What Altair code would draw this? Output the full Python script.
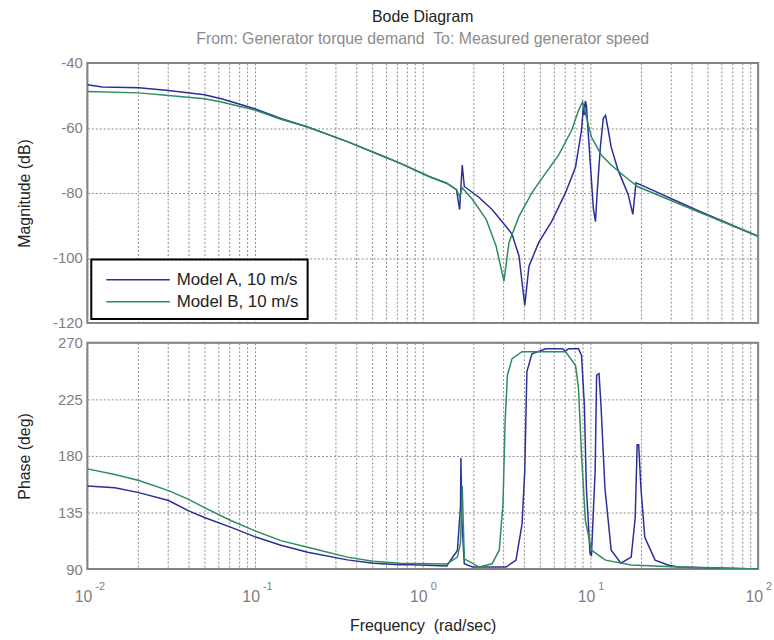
import altair as alt
import pandas as pd

FONT = "Liberation Sans"
BLUE = "#2b2e99"
GREEN = "#2e8b5c"

series_names = ["Model A, 10 m/s", "Model B, 10 m/s"]

# Magnitude (dB) - Model A
mag_a_freq = [0.01, 0.0123, 0.0203, 0.0305, 0.0499, 0.063, 0.0986, 0.1425, 0.206, 0.355, 0.557,
              0.731, 1.10, 1.39, 1.59, 1.66, 1.72, 1.77, 2.17, 2.59, 3.14, 3.41, 3.75, 4.06, 4.30,
              4.92, 5.87, 7.11, 8.15, 8.85, 9.10, 9.20, 9.33, 9.46, 9.86, 10.42, 10.72, 11.0,
              11.46, 11.94, 12.3, 12.78, 13.3, 14.6, 16.8, 17.9, 18.7, 20.6, 43.6, 100]
mag_a = [-46.7, -47.4, -47.6, -48.5, -49.8, -51.0, -54.0, -57.1, -59.7, -64.2, -68.3,
         -70.8, -75.0, -77.0, -79.0, -85.1, -71.4, -78.0, -81.4, -85.1, -90.3, -92.7, -99.4, -114.6,
         -102.5, -95.2, -88.8, -79.9, -72.0, -60.7, -52.5, -56.0, -51.7, -53.0, -66.8, -85.0, -88.8,
         -79.0, -65.9, -57.0, -56.1, -60.7, -65.9, -72.9, -80.5, -86.6, -76.9, -77.8, -85.4, -93.3]

# Magnitude (dB) - Model B
mag_b_freq = [0.01, 0.0203, 0.0305, 0.0499, 0.063, 0.0986, 0.1425, 0.206, 0.355, 0.557, 0.731,
              1.10, 1.39, 1.59, 1.66, 1.72, 1.98, 2.39, 2.74, 3.05, 3.27, 3.75, 4.48, 5.42,
              6.47, 7.73, 8.49, 8.97, 9.46, 10.14, 11.61, 13.3, 16.1, 19.2, 43.6, 100]
mag_b = [-48.8, -49.2, -50.0, -51.0, -52.0, -54.4, -57.3, -59.7, -64.2, -68.3, -70.8,
         -75.0, -77.0, -79.0, -81.1, -78.4, -82.0, -88.1, -96.4, -107.1, -95.2, -87.2, -79.9, -73.8,
         -68.3, -60.7, -54.6, -52.0, -56.6, -62.8, -68.3, -71.4, -75.0, -78.1, -85.7, -93.3]

# Phase (deg) - Model A
ph_a_freq = [0.01, 0.0146, 0.0203, 0.0305, 0.0402, 0.0499, 0.0721, 0.0986, 0.1425, 0.206,
             0.355, 0.506, 0.731, 0.873, 1.39,
             1.61, 1.68, 1.69, 1.71, 1.77, 1.98, 3.14, 3.60, 3.91, 4.06, 4.18, 4.48, 5.42,
             6.8, 7.1, 7.4, 8.49, 8.85, 9.20, 9.46, 9.95, 10.14, 10.67, 10.89, 11.25, 11.56,
             12.2, 13.3, 15.2, 17.5, 18.5, 19.0, 19.4, 20.0, 21.1, 24.3, 29.0, 33.2, 57.2, 100]
ph_a = [156.1, 154.7, 150.8, 144.5, 136.3, 131.0, 123.2, 116.0, 108.9, 103.4,
        97.3, 94.7, 93.4, 93.4, 92.4,
        104.8, 140.0, 178.4, 130.0, 94.2, 91.6, 91.6, 97.1, 125.8, 168.2, 247.1, 261.3, 265.3,
        265.3, 263.5, 265.3, 265.3, 260.0, 220.5, 154.7, 102.1, 101.0, 168.2, 244.2, 245.5, 220.5,
        154.7, 105.0, 94.7, 99.5, 131.0, 188.9, 188.9, 154.7, 115.3, 97.1, 93.2, 91.6, 90.8, 90.0]

# Phase (deg) - Model B
ph_b_freq = [0.01, 0.0146, 0.0203, 0.0305, 0.0402, 0.0499, 0.0721, 0.0986, 0.1425, 0.206,
             0.355, 0.506, 0.731, 1.39, 1.61,
             1.68, 1.72, 1.77, 2.17, 2.59, 2.86, 3.01, 3.10, 3.20, 3.41, 3.91, 7.11,
             8.15, 8.49, 8.85, 9.33, 10.14, 12.3, 17.5, 33.2, 100]
ph_b = [169.7, 165.2, 160.5, 152.4, 145.5, 138.9, 128.4, 120.8, 112.6, 107.4,
        99.5, 96.2, 94.7, 94.0, 99.5,
        111.0, 156.3, 98.1, 91.6, 94.2, 105.0, 141.6, 207.6, 244.2, 257.4, 262.9, 262.9,
        252.1, 233.7, 181.0, 128.7, 105.0, 97.1, 93.2, 91.6, 90.0]

mag_ticks = [-120, -100, -80, -60, -40]
phase_ticks = [90, 135, 180, 225, 270]
decade_freqs = [0.01, 0.1, 1, 10, 100]
decade_bases = ["10", "10", "10", "10", "10"]
decade_exps = ["-2", "-1", "0", "1", "2"]

grid_vals = [m * 10.0 ** k for k in range(-2, 2) for m in range(1, 10)] + [100.0]

mag_df = pd.concat([
    pd.DataFrame({"freq": mag_a_freq, "val": mag_a, "series": series_names[0]}),
    pd.DataFrame({"freq": mag_b_freq, "val": mag_b, "series": series_names[1]}),
])
ph_df = pd.concat([
    pd.DataFrame({"freq": ph_a_freq, "val": ph_a, "series": series_names[0]}),
    pd.DataFrame({"freq": ph_b_freq, "val": ph_b, "series": series_names[1]}),
])
tick_df = pd.DataFrame({"freq": decade_freqs, "base": decade_bases, "exp": decade_exps})

x_scale = alt.Scale(type="log", domain=[0.01, 100], nice=False)
color_scale = alt.Scale(domain=series_names, range=[BLUE, GREEN])

grid_kw = dict(grid=True, gridColor="#8c8c8c", gridDash=[2, 2], gridWidth=1,
               ticks=False, domain=False)
ylab_kw = dict(labelColor="#808080", labelFontSize=15, labelFont=FONT, labelPadding=5,
               labelExpr="'' + datum.value",
               titleFont=FONT, titleFontSize=16, titleFontWeight="normal", titleColor="#222222",
               titleX=-58, titleBaseline="alphabetic")

top = alt.Chart(mag_df).mark_line(strokeWidth=1.5, clip=True).encode(
    x=alt.X("freq:Q", scale=x_scale,
            axis=alt.Axis(values=grid_vals, labels=False, title=None, **grid_kw)),
    y=alt.Y("val:Q", scale=alt.Scale(domain=[-120, -40], nice=False, zero=False),
            axis=alt.Axis(values=mag_ticks, title="Magnitude (dB)", **grid_kw, **ylab_kw)),
    color=alt.Color("series:N", scale=color_scale,
                    legend=alt.Legend(title=None, orient="bottom-left", offset=4,
                                      symbolType="M-0.5,0H5.5", symbolSize=455,
                                      symbolStrokeWidth=1.5,
                                      labelFont=FONT, labelFontSize=17, labelColor="#222222",
                                      labelOffset=54, strokeColor="black", fillColor="white",
                                      padding=9, rowPadding=2, cornerRadius=0)),
).properties(
    width=676, height=262,
    title=alt.TitleParams(text="Bode Diagram",
                          subtitle="From: Generator torque demand\u00a0 To: Measured generator speed",
                          anchor="middle", frame="group", font=FONT, fontSize=16,
                          fontWeight="normal", color="#222222", subtitleFont=FONT,
                          subtitleFontSize=16, subtitleColor="#8c8c8c", subtitlePadding=6,
                          offset=9),
)

ph_lines = alt.Chart(ph_df).mark_line(strokeWidth=1.5, clip=True).encode(
    x=alt.X("freq:Q", scale=x_scale,
            axis=alt.Axis(values=grid_vals, labels=False, title="Frequency\u00a0 (rad/sec)",
                          titleFont=FONT, titleFontSize=16, titleFontWeight="normal",
                          titleColor="#222222", titleY=62, titleBaseline="alphabetic", **grid_kw)),
    y=alt.Y("val:Q", scale=alt.Scale(domain=[90, 270], nice=False, zero=False),
            axis=alt.Axis(values=phase_ticks, title="Phase (deg)", **grid_kw, **ylab_kw)),
    color=alt.Color("series:N", scale=color_scale, legend=None),
)

base_txt = alt.Chart(tick_df).mark_text(
    align="right", baseline="alphabetic", dx=5, font=FONT, fontSize=16, color="#808080"
).encode(x=alt.X("freq:Q", scale=x_scale), y=alt.value(261), text="base:N")

exp_txt = alt.Chart(tick_df).mark_text(
    align="left", baseline="alphabetic", dx=8, font=FONT, fontSize=11, color="#808080"
).encode(x=alt.X("freq:Q", scale=x_scale), y=alt.value(249), text="exp:N")

bottom = alt.layer(ph_lines, base_txt, exp_txt).properties(width=676, height=228)

chart = alt.vconcat(top, bottom, spacing=20, bounds="flush").resolve_scale(
    color="independent"
).resolve_legend(color="independent").properties(
    padding={"left": 16, "top": 6, "right": 0, "bottom": 0}
).configure_view(stroke="#808080", strokeWidth=2).configure_legend(strokeWidth=2)

chart.save("out.html", embed_options={"renderer": "svg", "actions": False})
